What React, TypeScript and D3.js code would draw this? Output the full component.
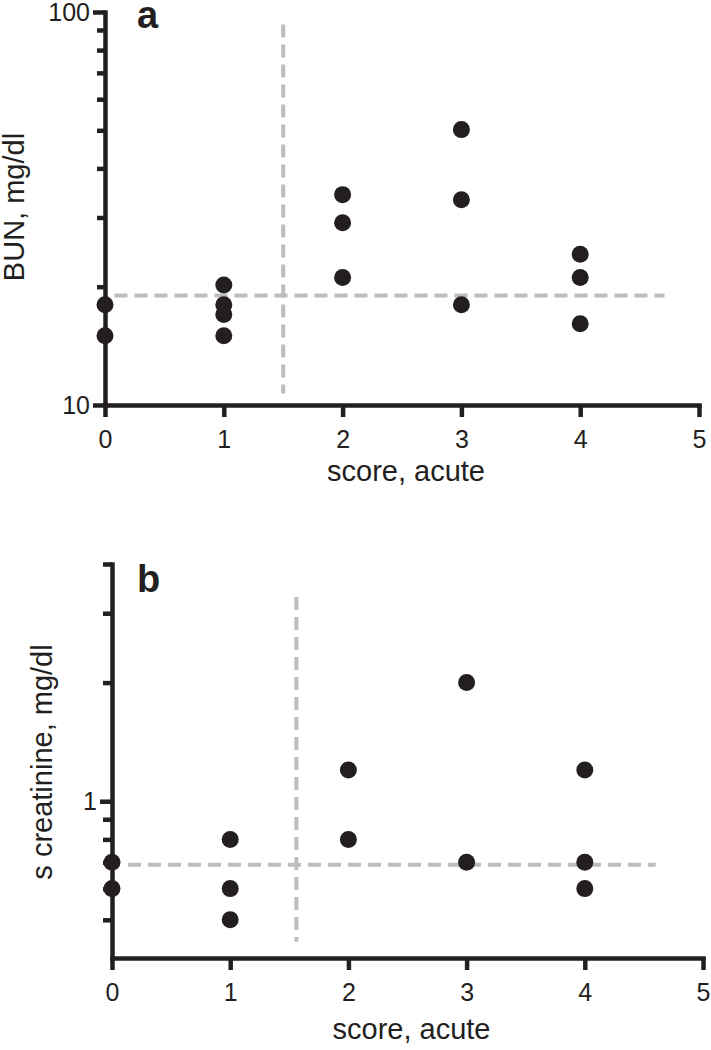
import { useEffect, useRef } from "react";
import * as d3 from "d3";

// panel a: BUN vs acute score
const scoresA = [0, 0, 1, 1, 1, 1, 2, 2, 2, 3, 3, 3, 4, 4, 4];
const bunValues = [18, 15, 20.2, 18, 17, 15, 34.3, 29.1, 21.1, 50.2, 33.3, 18, 24.2, 21.1, 16.1];
const bunCutoff = 19;
const bunMajorTicks = [10, 100];
const bunMinorTicks = [20, 30, 40, 50, 60, 70, 80, 90];

// panel b: serum creatinine vs acute score
const scoresB = [0, 0, 1, 1, 1, 2, 2, 3, 3, 4, 4, 4];
const creatValues = [0.7, 0.6, 0.8, 0.6, 0.5, 1.2, 0.8, 2.0, 0.7, 1.2, 0.7, 0.6];
const creatCutoff = 0.69;
const creatMajorTicks = [1];
const creatMinorTicks = [0.5, 0.6, 0.7, 0.8, 0.9, 2, 3, 4];

const scoreTicks = [0, 1, 2, 3, 4, 5];

const font = "Liberation Sans, Arial, Helvetica, sans-serif";
const ink = "#231f20";
const dashGrey = "#bdbdbd";
const axisW = 4.5;

export default function App() {
  const ref = useRef<SVGSVGElement>(null);

  useEffect(() => {
    const svg = d3.select(ref.current);
    svg.selectAll("*").remove();

    function panel(opts: any) {
      const x = d3.scaleLinear().domain([0, 5]).range([opts.left, opts.right]);
      const y = d3.scaleLog().domain(opts.yDomain).range([opts.bottom, opts.top]);
      const g = svg.append("g");

      // horizontal cutoff
      g.append("line")
        .attr("x1", x(opts.hLine[0])).attr("x2", x(opts.hLine[1]))
        .attr("y1", y(opts.cutoff)).attr("y2", y(opts.cutoff))
        .attr("stroke", dashGrey).attr("stroke-width", 4)
        .attr("stroke-dasharray", "13,7");
      // vertical cutoff
      g.append("line")
        .attr("x1", x(opts.vx)).attr("x2", x(opts.vx))
        .attr("y1", y(opts.vLine[1])).attr("y2", y(opts.vLine[0]))
        .attr("stroke", dashGrey).attr("stroke-width", 4)
        .attr("stroke-dasharray", "13,7");

      // minor y ticks
      const minor = g.append("g").attr("transform", `translate(${opts.left},0)`)
        .call(d3.axisLeft(y).tickValues(opts.minorTicks).tickSize(opts.minorLen).tickSizeOuter(0).tickFormat(() => ""));
      minor.select(".domain").remove();
      minor.selectAll("line").attr("stroke", ink).attr("stroke-width", axisW);

      const yAxis = g.append("g").attr("transform", `translate(${opts.left},0)`)
        .call(d3.axisLeft(y).tickValues(opts.majorTicks).tickSize(12).tickSizeOuter(0)
          .tickPadding(3).tickFormat(d3.format("")));
      yAxis.select(".domain").attr("stroke", ink).attr("stroke-width", axisW).attr("stroke-linecap", "square");
      yAxis.selectAll("line").attr("stroke", ink).attr("stroke-width", axisW);
      yAxis.selectAll("text").attr("font-family", font).attr("font-size", 25).attr("fill", ink);

      const xAxis = g.append("g").attr("transform", `translate(0,${opts.bottom})`)
        .call(d3.axisBottom(x).tickValues(scoreTicks).tickSize(12).tickSizeOuter(0)
          .tickPadding(13).tickFormat(d3.format("d")));
      xAxis.select(".domain").attr("stroke", ink).attr("stroke-width", axisW).attr("stroke-linecap", "square");
      xAxis.selectAll("line").attr("stroke", ink).attr("stroke-width", axisW);
      xAxis.selectAll("text").attr("font-family", font).attr("font-size", 25).attr("fill", ink);

      g.selectAll("circle.pt")
        .data(opts.ys)
        .enter()
        .append("circle")
        .attr("class", "pt")
        .attr("cx", (d: number, i: number) => x(opts.xs[i]))
        .attr("cy", (d: number) => y(d))
        .attr("r", 8.5)
        .attr("fill", ink);

      g.append("text")
        .attr("x", (opts.left + opts.right) / 2 + 4)
        .attr("y", opts.xTitleY)
        .attr("text-anchor", "middle")
        .attr("font-family", font).attr("font-size", 29).attr("fill", ink)
        .text("score, acute");

      g.append("text")
        .attr("transform", `translate(${opts.yTitleX},${opts.yTitleY}) rotate(-90)`)
        .attr("text-anchor", "middle")
        .attr("font-family", font).attr("font-size", 29).attr("fill", ink)
        .text(opts.yTitle);

      g.append("text")
        .attr("x", 137).attr("y", opts.letterY)
        .attr("font-family", font).attr("font-size", 38).attr("font-weight", "bold").attr("fill", ink)
        .text(opts.letter);
    }

    panel({
      left: 105, right: 699, top: 12, bottom: 405,
      yDomain: [10, 100], xs: scoresA, ys: bunValues, cutoff: bunCutoff,
      hLine: [0.08, 4.71], vx: 1.5, vLine: [10.7, 93],
      majorTicks: bunMajorTicks, minorTicks: bunMinorTicks, minorLen: 8,
      xTitleY: 481, yTitle: "BUN, mg/dl", yTitleX: 24, yTitleY: 207,
      letter: "a", letterY: 28,
    });

    panel({
      left: 112, right: 703, top: 564, bottom: 958,
      yDomain: [0.4, 4], xs: scoresB, ys: creatValues, cutoff: creatCutoff,
      hLine: [0.135, 4.6], vx: 1.56, vLine: [0.44, 3.3],
      majorTicks: creatMajorTicks, minorTicks: creatMinorTicks, minorLen: 9,
      xTitleY: 1039, yTitle: "s creatinine, mg/dl", yTitleX: 52, yTitleY: 762,
      letter: "b", letterY: 592,
    });
  }, []);

  return (
    <svg ref={ref} width={711} height={1050}
      style={{ position: "absolute", left: 0, top: 0, background: "#fff" }} />
  );
}
